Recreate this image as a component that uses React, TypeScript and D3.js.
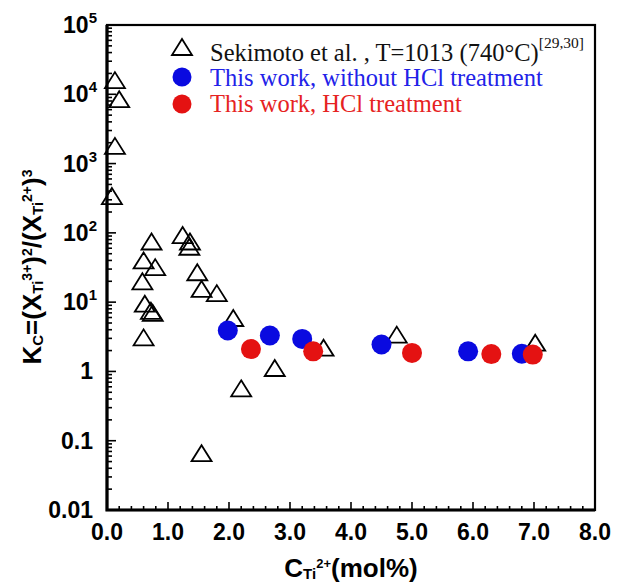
import React, { useEffect, useRef } from 'react';
import * as d3 from 'd3';

// Sekimoto et al. data (open triangles)
const sekimotoC = [0.13, 0.2, 0.13, 0.08, 0.73, 0.6, 0.79, 0.58, 0.62, 0.72, 0.75, 0.6, 1.24, 1.36, 1.35, 1.48, 1.55, 1.8, 2.07, 2.2, 2.75, 1.55, 3.55, 4.75, 7.02];
const sekimotoK = [16000, 8500, 1800, 340, 75, 40, 32, 20, 9.5, 7.5, 7, 3.1, 93, 75, 63, 27, 15.5, 13.5, 5.9, 0.57, 1.12, 0.066, 2.2, 3.4, 2.6];

// this work, without HCl treatment (blue)
const noHclC = [1.98, 2.67, 3.2, 4.5, 5.92, 6.8];
const noHclK = [3.9, 3.3, 2.95, 2.45, 1.95, 1.8];

// this work, HCl treatment (red)
const hclC = [2.36, 3.38, 5.0, 6.3, 6.98];
const hclK = [2.1, 1.95, 1.85, 1.78, 1.75];

const xTickLabels = ['0.0', '1.0', '2.0', '3.0', '4.0', '5.0', '6.0', '7.0', '8.0'];
const yDecades = [-2, -1, 0, 1, 2, 3, 4, 5];

const legendLabels = [
  'Sekimoto et al. , T=1013 (740°C)',
  'This work, without HCl treatment',
  'This work, HCl treatment',
];
const legendRef = '[29,30]';

const BLUE = '#0a0ae0';
const RED = '#e41212';
const SANS = 'Arial, "Liberation Sans", sans-serif';
const SERIF = '"Times New Roman", "Liberation Serif", serif';

const tri = (w: number, h: number) => `M0,${-h / 2}L${w / 2},${h / 2}L${-w / 2},${h / 2}Z`;

const App = () => {
  const ref = useRef<SVGSVGElement>(null);

  useEffect(() => {
    const svg = d3.select(ref.current);
    svg.selectAll('*').remove();

    const x = d3.scaleLinear().domain([0, 8]).range([107, 595]);
    const y = d3.scaleLog().domain([0.01, 1e5]).range([510, 25]);

    // ticks, pointing inward
    const g = svg.append('g').attr('stroke', '#000').attr('stroke-width', 1.6);
    y.ticks().forEach((v) => {
      const major = Math.abs(Math.log10(v) - Math.round(Math.log10(v))) < 1e-9;
      g.append('line')
        .attr('x1', x(0)).attr('x2', x(0) + (major ? 9 : 5))
        .attr('y1', y(v)).attr('y2', y(v));
    });
    x.ticks(40).forEach((v) => {
      const major = Math.abs(v - Math.round(v)) < 1e-9;
      g.append('line')
        .attr('x1', x(v)).attr('x2', x(v))
        .attr('y1', y(0.01)).attr('y2', y(0.01) - (major ? 8 : 4));
    });

    // frame
    svg.append('rect')
      .attr('x', x(0)).attr('y', y(1e5))
      .attr('width', x(8) - x(0)).attr('height', y(0.01) - y(1e5))
      .attr('fill', 'none').attr('stroke', '#000').attr('stroke-width', 2.2);
    svg.append('path')
      .attr('d', `M${x(0)},${y(1e5)}V${y(0.01)}H${x(8)}`)
      .attr('fill', 'none').attr('stroke', '#000').attr('stroke-width', 3.2);

    // x tick labels
    svg.append('g').selectAll('text').data(xTickLabels).enter().append('text')
      .attr('x', (d, i) => x(i)).attr('y', 540)
      .attr('text-anchor', 'middle')
      .style('font', `bold 23px ${SANS}`)
      .text((d) => d);

    // y tick labels
    const yl = svg.append('g').style('font', `bold 23px ${SANS}`).attr('text-anchor', 'end');
    yDecades.forEach((e) => {
      const v = Math.pow(10, e);
      if (e <= 0) {
        yl.append('text').attr('x', 93).attr('y', y(v) + 8).text(e === 0 ? '1' : e === -1 ? '0.1' : '0.01');
      } else {
        const t = yl.append('text').attr('x', 97).attr('y', y(v) + 8);
        t.append('tspan').text('10');
        t.append('tspan').attr('dy', -10).style('font-size', '15px').text(String(e));
      }
    });

    // rich label helper
    const rich = (sel: any, parts: [string, string][], main: number, sub: number, sup: number) => {
      let off = 0;
      parts.forEach(([s, k]) => {
        const target = k === 'sub' ? 2 : k === 'sup' ? -9 : 0;
        sel.append('tspan')
          .attr('dy', target - off)
          .style('font-size', `${k === 'n' ? main : k === 'sub' ? sub : sup}px`)
          .text(s);
        off = target;
      });
    };

    // axis titles
    const xt = svg.append('text').attr('x', 351).attr('y', 577).attr('text-anchor', 'middle')
      .style('font-family', SANS).style('font-weight', 'bold');
    rich(xt, [['C', 'n'], ['Ti', 'sub'], ['2+', 'sup'], ['(mol%)', 'n']], 26, 15, 13);

    const yt = svg.append('text').attr('transform', 'translate(41,267) rotate(-90)')
      .attr('text-anchor', 'middle')
      .style('font-family', SANS).style('font-weight', 'bold');
    rich(yt, [
      ['K', 'n'], ['C', 'sub'], ['=(X', 'n'], ['Ti', 'sub'], ['3+', 'sup'], [')', 'n'], ['2', 'sup'],
      ['/(X', 'n'], ['Ti', 'sub'], ['2+', 'sup'], [')', 'n'], ['3', 'sup'],
    ], 26, 15, 14);

    // data
    svg.append('g').selectAll('path').data(sekimotoC).enter().append('path')
      .attr('d', tri(20, 16))
      .attr('transform', (d, i) => `translate(${x(d)},${y(sekimotoK[i])})`)
      .attr('fill', 'none').attr('stroke', '#000').attr('stroke-width', 1.8);
    svg.append('g').selectAll('circle').data(noHclC).enter().append('circle')
      .attr('cx', (d) => x(d)).attr('cy', (d, i) => y(noHclK[i])).attr('r', 10)
      .attr('fill', BLUE);
    svg.append('g').selectAll('circle').data(hclC).enter().append('circle')
      .attr('cx', (d) => x(d)).attr('cy', (d, i) => y(hclK[i])).attr('r', 10)
      .attr('fill', RED);

    // legend
    const lg = svg.append('g');
    lg.append('path').attr('d', tri(20, 16)).attr('transform', 'translate(182,47)')
      .attr('fill', 'none').attr('stroke', '#000').attr('stroke-width', 1.8);
    lg.append('circle').attr('cx', 182).attr('cy', 77).attr('r', 9.5).attr('fill', BLUE);
    lg.append('circle').attr('cx', 182).attr('cy', 104).attr('r', 9.5).attr('fill', RED);
    const colors = ['#111', '#2222e8', '#e62222'];
    const baselines = [61, 86, 112];
    legendLabels.forEach((s, i) => {
      const t = lg.append('text').attr('x', 210).attr('y', baselines[i])
        .attr('fill', colors[i]).style('font', `24.5px ${SERIF}`).text(s);
      if (i === 0) {
        t.append('tspan').attr('dy', -13).style('font-size', '15.5px').text(legendRef);
      }
    });
  }, []);

  return (
    <svg
      ref={ref}
      width={617}
      height={588}
      style={{ position: 'absolute', left: 0, top: 0, background: '#fff' }}
    />
  );
};

export default App;
